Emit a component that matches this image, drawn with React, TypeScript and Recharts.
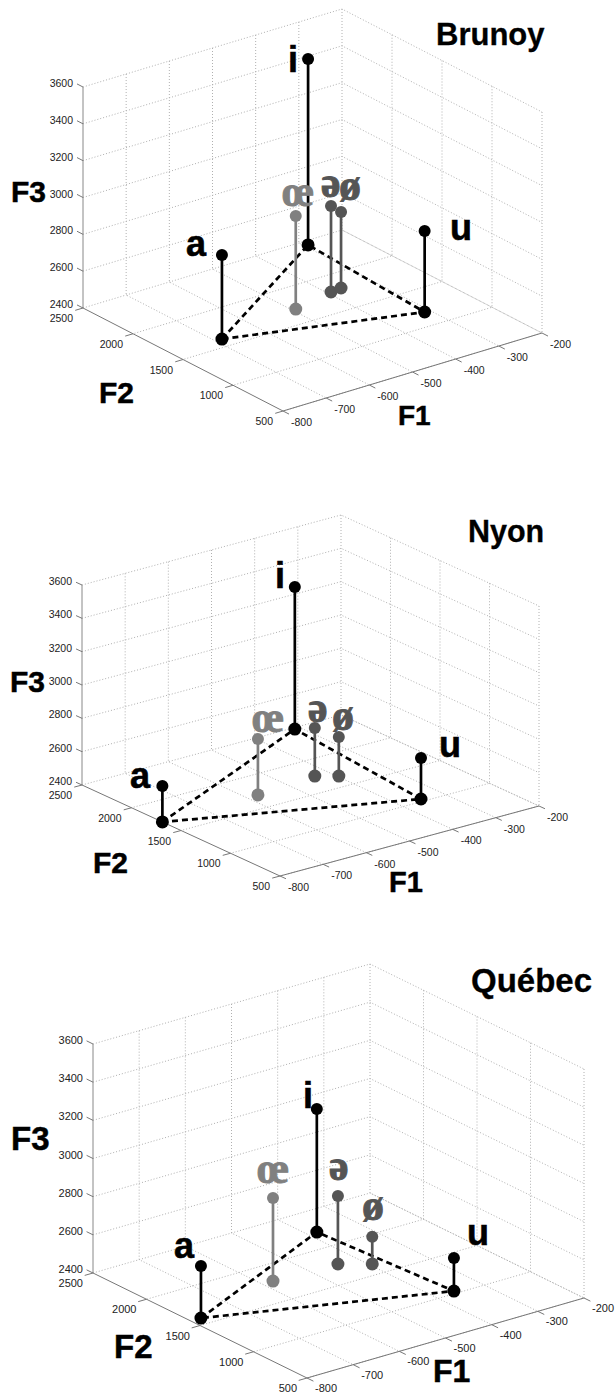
import { ScatterChart, Scatter, XAxis, YAxis } from "recharts";

const WIDTH = 616;
const HEIGHT = 1393;

const vowels = ["a", "i", "u", "œ", "ə", "ø"];

const brunoyF1 = [-685, -292, -312, -492, -392, -366];
const brunoyF2 = [1607, 2442, 1190, 1702, 1781, 1793];
const brunoyF3 = [2856, 3410, 2840, 2905, 2867, 2813];

const nyonF1 = [-800, -312, -350, -575, -432, -397];
const nyonF2 = [1688, 2478, 1038, 1704, 1753, 1663];
const nyonF3 = [2616, 3252, 2646, 2736, 2688, 2634];

const quebecF1 = [-778, -381, -358, -577, -441, -394];
const quebecF2 = [1586, 2216, 1034, 1780, 1760, 1642];
const quebecF3 = [2673, 3045, 2573, 2835, 2756, 2542];

const f1Ticks = [-800, -700, -600, -500, -400, -300, -200];
const f2Ticks = [2500, 2000, 1500, 1000, 500];
const f3Ticks = [2400, 2600, 2800, 3000, 3200, 3400, 3600];

const vowelColors = ["#000", "#000", "#000", "#808080", "#555", "#555"];

// pixel layout of each 3d box and its text
const panels = [
  {
    title: "Brunoy",
    f1: brunoyF1,
    f2: brunoyF2,
    f3: brunoyF3,
    view: { x0: 83, y0: 308, ux: 259, uy: -78, vx: 200, vy: 103, h: 221 },
    tickSize: 10.5,
    f1LabelDy: 11,
    titleSize: 31,
    titlePos: [436, 45],
    axisPos: { F3: [11, 202, 30], F2: [99, 403, 30], F1: [398, 425, 28] },
    vowelPos: [[186, 256], [288, 72], [450, 240], [282, 206], [321, 197], [339, 200]],
  },
  {
    title: "Nyon",
    f1: nyonF1,
    f2: nyonF2,
    f3: nyonF3,
    view: { x0: 82, y0: 785, ux: 259, uy: -70, vx: 198, vy: 91, h: 200 },
    tickSize: 10.5,
    f1LabelDy: 11,
    titleSize: 30.5,
    titlePos: [468, 542],
    axisPos: { F3: [10, 692, 30], F2: [93, 873, 30], F1: [389, 892, 29] },
    vowelPos: [[130, 788], [275, 588], [439, 757], [252, 732], [308, 722], [332, 730]],
  },
  {
    title: "Québec",
    f1: quebecF1,
    f2: quebecF2,
    f3: quebecF3,
    view: { x0: 93, y0: 1273, ux: 277, uy: -80, vx: 214, vy: 105, h: 229 },
    tickSize: 11,
    f1LabelDy: 10,
    titleSize: 33,
    titlePos: [471, 992],
    axisPos: { F3: [11, 1150, 33], F2: [114, 1358, 33], F1: [433, 1382, 32] },
    vowelPos: [[174, 1258], [303, 1108], [467, 1245], [257, 1183], [329, 1180], [362, 1220]],
  },
];

const project = (view: any, f1: number, f2: number, f3: number) => {
  const u = (f1 + 800) / 600;
  const v = (2500 - f2) / 2000;
  const w = (f3 - 2400) / 1200;
  return {
    x: view.x0 + view.ux * u + view.vx * v,
    y: view.y0 + view.uy * u + view.vy * v - view.h * w,
  };
};

const NoPoint = () => null;

const Polyline = ({ points, stroke, width = 1, dash }: any) => (
  <Scatter
    data={points}
    isAnimationActive={false}
    shape={NoPoint}
    line={{ stroke, strokeWidth: width, strokeDasharray: dash, fill: "none" }}
  />
);

const TextPoint = (props: any) => {
  const item = props.payload ?? props;
  return (
    <text
      x={props.cx}
      y={props.cy}
      fontFamily={item.family}
      fontSize={item.size}
      fontWeight={item.weight}
      fill={item.color}
      stroke={item.outline ? item.color : "none"}
      strokeWidth={item.outline ?? 0}
      textAnchor={item.anchor}
      dominantBaseline={item.baseline}
    >
      {item.text}
    </text>
  );
};

const Dot = (props: any) => {
  const item = props.payload ?? props;
  return <circle cx={props.cx} cy={props.cy} r={item.r} fill={item.color} />;
};

const SANS = "'Liberation Sans', Arial, sans-serif";
const SERIF = "'Liberation Serif', 'DejaVu Serif', serif";

const renderPanel = (p: any) => {
  const { view } = p;
  const at = (f1: number, f2: number, f3: number) => project(view, f1, f2, f3);
  const lines: any[] = [];
  const grid = "#b0b0b0";
  const dots = "1 2";

  // walls and floor
  f3Ticks.forEach((t) =>
    lines.push({ points: [at(-800, 2500, t), at(-200, 2500, t), at(-200, 500, t)], stroke: grid, dash: dots })
  );
  f1Ticks.slice(1).forEach((t) => {
    lines.push({ points: [at(t, 2500, 3600), at(t, 2500, 2400), at(t, 500, 2400)], stroke: grid, dash: dots });
  });
  f2Ticks.slice(1).forEach((t) => {
    lines.push({ points: [at(-200, t, 3600), at(-200, t, 2400), at(-800, t, 2400)], stroke: grid, dash: dots });
  });

  // axes and tick marks
  const axis = "#777";
  lines.push({ points: [at(-800, 2500, 2400), at(-800, 2500, 3600)], stroke: "#888" });
  lines.push({ points: [at(-800, 2500, 2400), at(-800, 500, 2400)], stroke: axis });
  lines.push({ points: [at(-800, 500, 2400), at(-200, 500, 2400)], stroke: axis });
  f3Ticks.forEach((t) => lines.push({ points: [at(-800, 2500, t), at(-800, 2560, t)], stroke: axis }));
  f2Ticks.forEach((t) => lines.push({ points: [at(-800, t, 2400), at(-818, t, 2400)], stroke: axis }));
  f1Ticks.forEach((t) => lines.push({ points: [at(t, 500, 2400), at(t, 440, 2400)], stroke: axis }));

  const floor = vowels.map((_, i) => at(p.f1[i], p.f2[i], 2400));
  const tops = vowels.map((_, i) => at(p.f1[i], p.f2[i], p.f3[i]));

  const labels: any[] = [];
  const tickBase = { family: SANS, weight: 400, color: "#222", size: p.tickSize, baseline: "central" };
  f3Ticks.forEach((t) => {
    const q = at(-800, 2500, t);
    labels.push({ ...tickBase, x: q.x - 10, y: q.y - 4, text: String(t), anchor: "end" });
  });
  f2Ticks.forEach((t) => {
    const q = at(-800, t, 2400);
    labels.push({ ...tickBase, x: q.x - 10, y: q.y + 10, text: String(t), anchor: "end" });
  });
  f1Ticks.forEach((t) => {
    const q = at(t, 500, 2400);
    labels.push({ ...tickBase, x: q.x + 8, y: q.y + p.f1LabelDy, text: String(t), anchor: "start" });
  });

  const bold = { family: SANS, weight: 700, color: "#000", anchor: "start", baseline: "alphabetic" };
  labels.push({ ...bold, x: p.titlePos[0], y: p.titlePos[1], text: p.title, size: p.titleSize, outline: 0.3 });
  Object.keys(p.axisPos).forEach((k) => {
    const [x, y, size] = p.axisPos[k];
    labels.push({ ...bold, x, y, text: k, size, outline: 0.5 });
  });
  vowels.forEach((v, i) => {
    const serif = i > 2;
    labels.push({
      ...bold,
      x: p.vowelPos[i][0],
      y: p.vowelPos[i][1],
      text: v,
      size: serif ? 44 : 36,
      family: serif ? SERIF : SANS,
      color: vowelColors[i],
      outline: serif ? 1 : 0.6,
    });
  });

  const triangle = [floor[0], floor[1], floor[2], floor[0]];
  const marks = vowels.flatMap((_, i) => [
    { ...floor[i], r: 6.5, color: vowelColors[i] },
    { ...tops[i], r: 6, color: vowelColors[i] },
  ]);

  return (
    <>
      {lines.map((l, i) => Polyline({ ...l, key: i }))}
      {Polyline({ points: triangle, stroke: "#000", width: 2.7, dash: "6 4" })}
      {vowels.map((v, i) =>
        Polyline({ points: [floor[i], tops[i]], stroke: vowelColors[i], width: 2.7, key: v })
      )}
      <Scatter data={marks} isAnimationActive={false} shape={Dot} />
      <Scatter data={labels} isAnimationActive={false} shape={TextPoint} />
    </>
  );
};

export default function App() {
  return (
    <div style={{ position: "absolute", left: 0, top: 0, width: WIDTH, height: HEIGHT, background: "#fff" }}>
      <ScatterChart width={WIDTH} height={HEIGHT} margin={{ top: 0, right: 0, bottom: 0, left: 0 }}>
        <XAxis type="number" dataKey="x" domain={[0, WIDTH]} hide />
        <YAxis type="number" dataKey="y" domain={[0, HEIGHT]} reversed hide />
        {panels.map((p) => (
          <g key={p.title}>{renderPanel(p)}</g>
        ))}
      </ScatterChart>
    </div>
  );
}
